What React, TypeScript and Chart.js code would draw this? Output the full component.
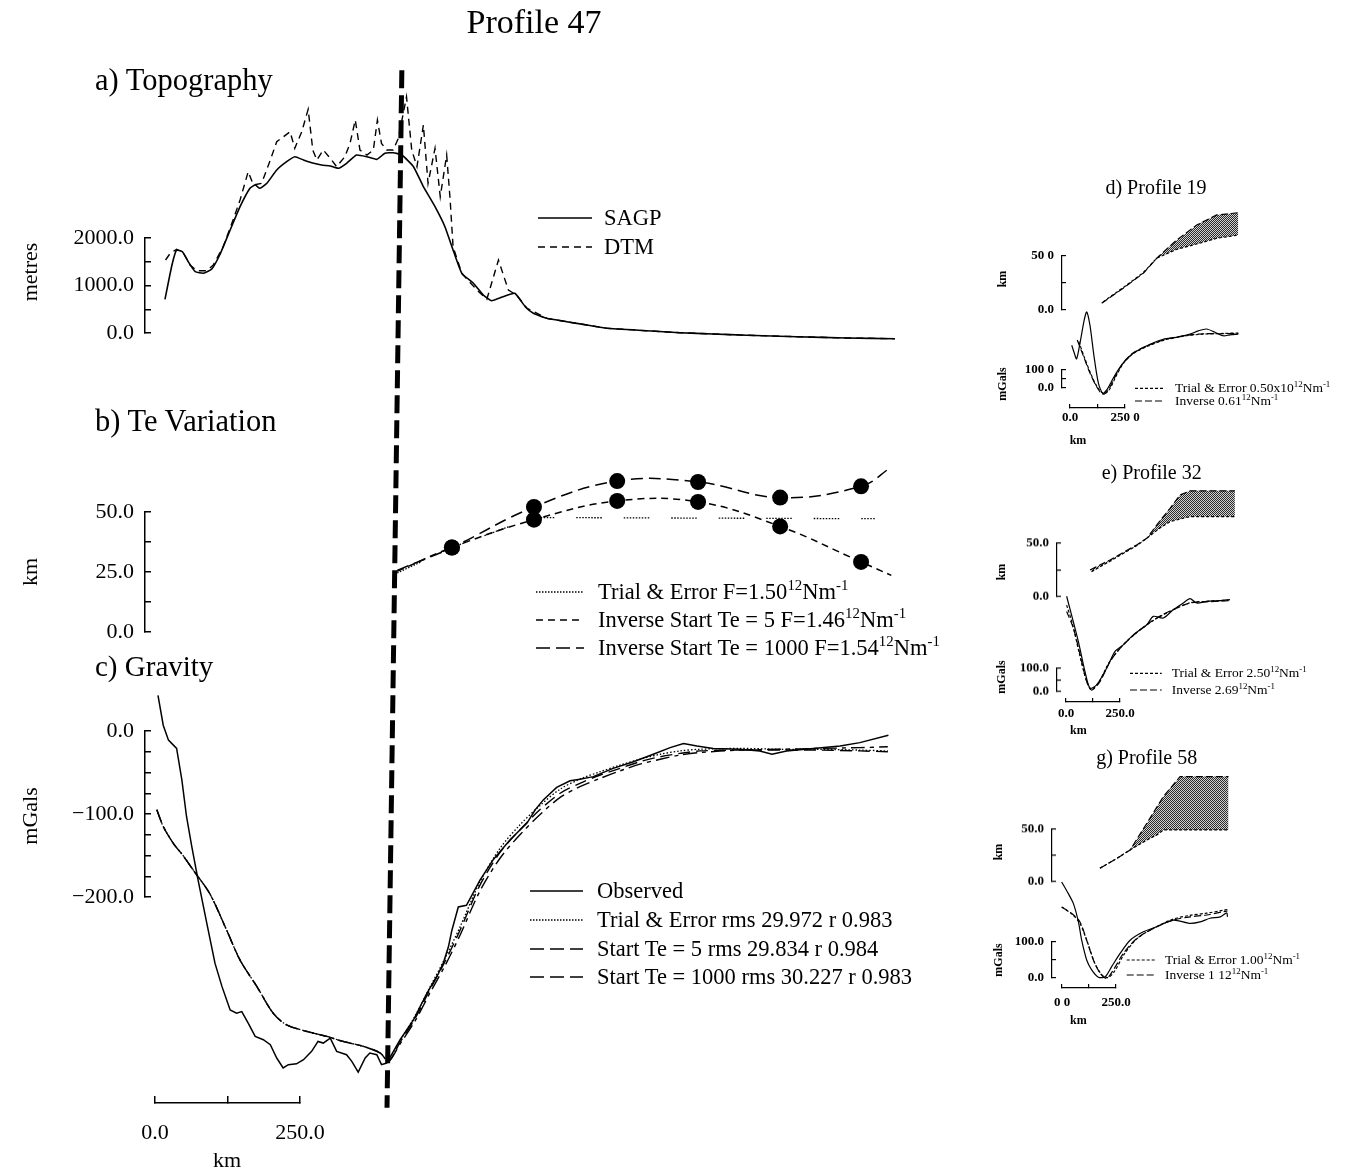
import React, { useEffect, useRef } from 'react';
import { Chart, registerables } from 'chart.js';

Chart.register(...registerables);

// ======================= DATA : Profile 47 =======================
// a) Topography — distance along profile (km) / elevation (metres)
const topoSagpKm = [18, 30, 38, 48, 58, 70, 84, 98, 112, 130, 147, 164, 173, 181, 193, 210, 227, 241, 256, 270, 287, 302, 316, 330, 347, 365, 382, 396, 410, 425, 445, 462, 482, 499, 513, 528, 548, 565, 579, 599, 619, 637, 651, 674, 708, 743, 777, 846, 903, 960, 1018, 1103, 1189, 1272];
const topoSagpM = [709, 1431, 1747, 1711, 1501, 1290, 1257, 1341, 1642, 2168, 2659, 3046, 3115, 3046, 3151, 3431, 3606, 3711, 3642, 3585, 3536, 3515, 3467, 3572, 3747, 3711, 3656, 3783, 3795, 3747, 3501, 3080, 2659, 2238, 1747, 1257, 1046, 800, 680, 764, 836, 554, 415, 309, 238, 168, 99, 48, 6, -21, -48, -78, -105, -120];
const topoDtmKm = [19, 27, 38, 50, 61, 73, 90, 101, 118, 135, 147, 161, 170, 184, 199, 210, 233, 241, 253, 264, 272, 279, 290, 302, 313, 327, 336, 345, 353, 365, 376, 383, 390, 399, 410, 419, 433, 442, 451, 462, 470, 482, 491, 502, 508, 513, 528, 554, 571, 591, 608, 622, 640, 674, 708, 743, 777, 846, 903, 960, 1018, 1103, 1189, 1272];
const topoDtmM = [1537, 1678, 1762, 1678, 1431, 1311, 1311, 1431, 1817, 2379, 2800, 3395, 3115, 3151, 3642, 4027, 4237, 3888, 4237, 4709, 3852, 3642, 3852, 3677, 3501, 3711, 3993, 4484, 3852, 3747, 3852, 4484, 3993, 3852, 3852, 4098, 4974, 3852, 3501, 4378, 3151, 3888, 2869, 3747, 2800, 1817, 1257, 905, 709, 1537, 905, 800, 520, 309, 238, 168, 99, 48, 6, -21, -48, -78, -105, -120];

// b) Te variation — km along profile / Te (km)
const teNodesKm = [417, 511, 652, 795, 934, 1075, 1214, 1266];
const teStart1000 = [25.7, 35.2, 52.1, 62.9, 62.5, 56.0, 60.7, 68.7];
const teStart5 = [25.3, 35.2, 46.8, 54.6, 54.2, 44.0, 29.2, 23.6];
const teTrialKm = [417, 511, 652, 1238];
const teTrialVal = [24.6, 35.2, 47.7, 47.2];

// c) Gravity — km along profile / mGal
const gravObsKm = [6, 15, 24, 38, 47, 55, 64, 75, 90, 104, 116, 130, 141, 150, 161, 173, 187, 199, 210, 221, 230, 244, 256, 270, 281, 290, 302, 313, 330, 339, 350, 362, 370, 382, 390, 399, 422, 445, 468, 488, 496, 505, 511, 522, 536, 559, 582, 611, 640, 654, 668, 691, 714, 731, 754, 788, 823, 857, 886, 909, 932, 960, 1006, 1040, 1061, 1086, 1132, 1178, 1212, 1261];
const gravObs = [43, 7, -11, -21, -59, -103, -139, -180, -232, -280, -308, -336, -340, -338, -352, -368, -372, -378, -394, -406, -402, -401, -396, -386, -374, -376, -370, -386, -390, -398, -411, -394, -388, -390, -402, -400, -372, -348, -316, -292, -280, -260, -240, -212, -210, -180, -155, -131, -111, -95, -83, -68, -60, -58, -55, -45, -37, -28, -20, -15, -18, -21, -22, -24, -28, -24, -21, -18, -14, -5];
const gravModelKm = [4, 15, 32, 50, 67, 95, 124, 147, 176, 204, 227, 262, 296, 324, 359, 388, 402, 422, 448, 473, 499, 525, 559, 594, 628, 662, 697, 731, 766, 800, 834, 869, 903, 937, 1006, 1075, 1144, 1212, 1260];
const gravTrial = [-95, -115, -135, -151, -168, -196, -240, -276, -308, -340, -354, -362, -368, -374, -380, -388, -398, -373, -343, -309, -274, -236, -182, -141, -113, -90, -70, -58, -49, -41, -34, -28, -24, -22, -21, -22, -22, -23, -24];
const gravStart5 = [-95, -115, -135, -151, -168, -196, -240, -276, -308, -340, -354, -362, -368, -374, -380, -388, -398, -375, -346, -312, -278, -240, -186, -146, -119, -95, -75, -63, -53, -45, -37, -31, -27, -24, -23, -23, -23, -24, -25];
const gravStart1000 = [-95, -115, -135, -151, -168, -196, -240, -276, -308, -340, -354, -362, -368, -374, -380, -388, -398, -377, -349, -316, -283, -246, -193, -153, -125, -101, -80, -67, -57, -48, -40, -34, -29, -26, -23, -22, -21, -20, -19];

// thick dashed boundary line (km, on the mGal scale)
const boundaryKm = [425, 399.5];
const boundaryMGal = [796, -454];

// tick values / labels
const topoTicks = [0, 500, 1000, 1500, 2000];
const topoTickLabels = ['0.0', '', '1000.0', '', '2000.0'];
const teTicks = [0, 12.5, 25, 37.5, 50];
const teTickLabels = ['0.0', '', '25.0', '', '50.0'];
const gravTicks = [-200, -175, -150, -125, -100, -75, -50, -25, 0];
const gravTickLabels = ['\u2212200.0', '', '', '', '\u2212100.0', '', '', '', '0.0'];
const barTicks = [0, 125, 250];
const barTickLabels = ['0.0', '', '250.0'];

// ======================= DATA : insets =======================
// d) Profile 19
const dTeInvKm = [144, 242, 333, 394, 485, 576, 667, 765];
const dTeInv = [6.2, 20.1, 34.0, 47.9, 64.8, 78.7, 88.0, 90.1];
const dTeTrialKm = [150, 242, 333, 394, 485, 576, 667, 765];
const dTeTrial = [7.5, 20.8, 34.6, 47.9, 56.2, 61.1, 66.4, 69.4];
const dGObsKm = [8, 18, 30, 46, 64, 76, 91, 109, 129, 149, 167, 197, 220, 242, 280, 318, 364, 424, 485, 546, 583, 621, 659, 697, 727, 765];
const dGObs = [235, 198, 161, 250, 370, 417, 342, 176, 28, -28, -9, 56, 102, 139, 185, 213, 241, 268, 278, 296, 314, 324, 306, 287, 292, 296];
const dGInvKm = [33, 61, 91, 121, 149, 174, 205, 242, 288, 349, 424, 515, 606, 697, 765];
const dGInv = [264, 176, 83, 9, -32, -9, 64, 139, 194, 231, 264, 287, 298, 298, 300];
const dGTrialKm = [40, 65, 95, 125, 155, 180, 210, 245, 290, 350, 425, 515, 606, 697, 765];
const dGTrial = [255, 170, 78, 5, -30, -5, 68, 140, 192, 228, 262, 285, 296, 300, 302];
const dTeTickLabels = ['0.0', '', '50 0'];
const dGTickLabels = ['0.0', '', '100 0'];
const dBarTickLabels = ['0.0', '', '250 0'];

// e) Profile 32
const eTeInvKm = [111, 204, 327, 374, 435, 482, 528, 574, 782];
const eTeInv = [25.0, 34.4, 48.5, 54.7, 71.0, 82.8, 95.3, 99.1, 99.1];
const eTeTrialKm = [118, 204, 327, 374, 435, 482, 574, 782];
const eTeTrial = [23.5, 33.2, 47.8, 54.7, 64.4, 70.3, 75.0, 75.0];
const eGObsKm = [3, 57, 88, 111, 142, 188, 227, 265, 312, 374, 404, 451, 497, 543, 574, 605, 651, 713, 759];
const eGObs = [408, 215, 86, 15, 29, 100, 172, 200, 243, 286, 322, 315, 351, 379, 398, 379, 386, 389, 394];
const eGInvKm = [3, 34, 65, 96, 119, 157, 204, 265, 343, 420, 497, 574, 651, 759];
const eGInv = [343, 272, 158, 43, 7, 43, 129, 200, 265, 315, 351, 379, 384, 389];
const eGTrialKm = [3, 30, 60, 92, 116, 150, 200, 262, 340, 418, 497, 574, 651, 759];
const eGTrial = [370, 290, 170, 55, 10, 38, 125, 198, 262, 312, 350, 380, 386, 392];
const eTeTickLabels = ['0.0', '', '50.0'];
const eGTickLabels = ['0.0', '', '100.0'];
const eBarTickLabels = ['0.0', '', '250.0'];

// g) Profile 58
const gTeInvKm = [176, 254, 315, 392, 468, 545, 768];
const gTeInv = [12.8, 22.3, 30.3, 55.8, 81.2, 100.3, 100.3];
const gTeTrialKm = [176, 254, 315, 392, 438, 468, 768];
const gTeTrial = [12.8, 22.3, 30.3, 39.8, 44.6, 49.4, 49.4];
const gGObsKm = [0, 30, 54, 77, 92, 115, 138, 169, 200, 230, 269, 315, 376, 438, 514, 591, 637, 683, 730, 760, 763];
const gGObs = [263, 232, 204, 154, 104, 50, 23, 3, 4, 32, 68, 104, 127, 141, 159, 150, 154, 164, 168, 179, 168];
const gGInvKm = [0, 46, 84, 115, 146, 177, 207, 238, 284, 346, 438, 514, 591, 668, 745, 763];
const gGInv = [195, 177, 154, 104, 50, 14, 0, 23, 68, 109, 141, 159, 168, 173, 182, 184];
const gGTrialKm = [0, 46, 84, 120, 152, 184, 212, 242, 288, 350, 440, 514, 591, 668, 745, 763];
const gGTrial = [195, 176, 150, 96, 42, 10, 2, 18, 66, 110, 142, 162, 172, 178, 186, 188];
const gTeTickLabels = ['0.0', '', '50.0'];
const gGTickLabels = ['0.0', '', '100.0'];
const gBarTickLabels = ['0 0', '', '250.0'];

const insetTeTicks = [0, 25, 50];
const insetGTicks = [0, 50, 100];

// ======================= STYLE / LAYOUT =======================
const INK = '#000';
const SERIF = '"Liberation Serif", "Times New Roman", Times, serif';

type Rect = { left: number; top: number; right: number; bottom: number };
// linear map: value v1 sits at pixel p1, value v2 at pixel p2 (page coordinates)
type Map1 = { v1: number; p1: number; v2: number; p2: number };

const px = (m: Map1, v: number) => m.p1 + ((v - m.v1) * (m.p2 - m.p1)) / (m.v2 - m.v1);
const val = (m: Map1, p: number) => m.v1 + ((p - m.p1) * (m.v2 - m.v1)) / (m.p2 - m.p1);
const rangeFor = (m: Map1, a: number, b: number) => {
  const u = val(m, a);
  const w = val(m, b);
  return { min: Math.min(u, w), max: Math.max(u, w) };
};

const zip = (xs: number[], ys: number[]) => xs.map((x, i) => ({ x, y: ys[i] }));

function line(xs: number[], ys: number[], extra: any = {}) {
  return {
    data: zip(xs, ys),
    borderColor: INK,
    backgroundColor: INK,
    borderWidth: 1.5,
    pointRadius: 0,
    fill: false,
    tension: 0,
    clip: false,
    ...extra,
  };
}

function stipple() {
  const c = document.createElement('canvas');
  c.width = 2;
  c.height = 2;
  const g = c.getContext('2d')!;
  g.fillStyle = '#d0d0d0';
  g.fillRect(0, 0, 2, 2);
  g.fillStyle = '#2a2a2a';
  g.fillRect(0, 0, 1, 1);
  g.fillRect(1, 1, 1, 1);
  return g.createPattern(c, 'repeat') || '#777';
}

function useChart(ref: any, build: () => any) {
  useEffect(() => {
    const chart = new Chart(ref.current as HTMLCanvasElement, build());
    return () => chart.destroy();
  }, []);
}

const baseOptions = (padding: any, scales: any) => ({
  responsive: false,
  animation: false,
  events: [],
  layout: { autoPadding: false, padding },
  plugins: { legend: { display: false }, tooltip: { enabled: false } },
  scales,
});

function Canvas({ box, cref }: { box: Rect; cref: any }) {
  const w = box.right - box.left;
  const h = box.bottom - box.top;
  return (
    <canvas ref={cref} width={w} height={h}
      style={{ position: 'absolute', left: box.left, top: box.top, width: w, height: h }} />
  );
}

// data layer: whole canvas is the chart area, scales hidden but mapped to page pixels
function DataChart({ box, xm, ym, make }: { box: Rect; xm: Map1; ym: Map1; make: () => any[] }) {
  const ref = useRef<HTMLCanvasElement>(null);
  useChart(ref, () => ({
    type: 'line',
    data: { datasets: make() },
    options: baseOptions(0, {
      x: { type: 'linear', display: false, ...rangeFor(xm, box.left, box.right) },
      y: { type: 'linear', display: false, ...rangeFor(ym, box.bottom, box.top) },
    }),
  }));
  return <Canvas box={box} cref={ref} />;
}

const AXIS_MARGIN = 44;

// bracket-style vertical axis "[" with inward ticks
function AxisY({ x, ym, ticks, labels, size, bold, pad, tick, lw, room }: any) {
  const ref = useRef<HTMLCanvasElement>(null);
  const top = px(ym, ticks[ticks.length - 1]);
  const bottom = px(ym, ticks[0]);
  const box: Rect = { left: x - room, top: top - AXIS_MARGIN, right: x + 20, bottom: bottom + AXIS_MARGIN };
  useChart(ref, () => ({
    type: 'line',
    data: { datasets: [] },
    options: baseOptions({ left: 0, right: 0, top: AXIS_MARGIN, bottom: AXIS_MARGIN }, {
      x: { type: 'linear', display: false, min: 0, max: 1 },
      y: {
        type: 'linear',
        position: 'left',
        min: ticks[0],
        max: ticks[ticks.length - 1],
        afterFit: (s: any) => { s.width = room; },
        border: { display: true, color: INK, width: lw },
        grid: { display: true, drawOnChartArea: false, drawTicks: true, tickLength: -tick, color: INK, lineWidth: lw },
        ticks: {
          stepSize: ticks[1] - ticks[0],
          autoSkip: false,
          padding: pad,
          color: INK,
          font: { family: SERIF, size, weight: bold ? 'bold' : 'normal' },
          callback: (_v: any, i: number) => labels[i] ?? '',
        },
      },
    }),
  }));
  return <Canvas box={box} cref={ref} />;
}

const BAR_MARGIN = 80;

// horizontal distance scale bar with upward ticks
function AxisBar({ xm, y, ticks, labels, size, bold, pad, tick, lw, room }: any) {
  const ref = useRef<HTMLCanvasElement>(null);
  const left = px(xm, ticks[0]);
  const right = px(xm, ticks[ticks.length - 1]);
  const box: Rect = { left: left - BAR_MARGIN, top: y - 14, right: right + BAR_MARGIN, bottom: y + room };
  useChart(ref, () => ({
    type: 'line',
    data: { datasets: [] },
    options: baseOptions({ left: BAR_MARGIN, right: BAR_MARGIN, top: 4, bottom: 0 }, {
      y: { type: 'linear', display: false, min: 0, max: 1 },
      x: {
        type: 'linear',
        position: 'bottom',
        min: ticks[0],
        max: ticks[ticks.length - 1],
        afterFit: (s: any) => { s.height = room; },
        border: { display: true, color: INK, width: lw },
        grid: { display: true, drawOnChartArea: false, drawTicks: true, tickLength: -tick, color: INK, lineWidth: lw },
        ticks: {
          stepSize: ticks[1] - ticks[0],
          autoSkip: false,
          maxRotation: 0,
          minRotation: 0,
          padding: pad,
          color: INK,
          font: { family: SERIF, size, weight: bold ? 'bold' : 'normal' },
          callback: (_v: any, i: number) => labels[i] ?? '',
        },
      },
    }),
  }));
  return <Canvas box={box} cref={ref} />;
}

function Txt({ x, y, size, children, align = 'left', rotate = false, bold = false }: any) {
  const tx = align === 'left' ? '0' : align === 'center' ? '-50%' : '-100%';
  return (
    <div
      style={{
        position: 'absolute',
        left: x,
        top: y,
        transform: rotate ? 'translate(-50%,-50%) rotate(-90deg)' : `translate(${tx},-50%)`,
        fontFamily: SERIF,
        fontSize: size,
        fontWeight: bold ? 'bold' : 'normal',
        lineHeight: 1,
        whiteSpace: 'nowrap',
        color: INK,
      }}
    >
      {children}
    </div>
  );
}

const Sup = ({ children }: any) => (
  <span style={{ fontSize: '0.66em', position: 'relative', top: '-0.6em', lineHeight: 0 }}>{children}</span>
);

const DOTS_GAPPED = [1.5, 1.5, 1.5, 1.5, 1.5, 1.5, 1.5, 1.5, 1.5, 1.5, 1.5, 1.5, 1.5, 1.5, 1.5, 1.5, 1.5, 22];

// ---------------- main panels (page-pixel maps) ----------------
const MAIN_X: Map1 = { v1: 0, p1: 154.5, v2: 250, p2: 300 };
const TOPO_Y: Map1 = { v1: 0, p1: 333, v2: 2000, p2: 238 };
const TE_Y: Map1 = { v1: 0, p1: 632, v2: 50, p2: 512 };
const GRAV_Y: Map1 = { v1: 0, p1: 731, v2: -200, p2: 897 };
const MAIN_AXIS_X = 145;

const markerRadius = (ctx: any) => {
  const n = ctx.dataset.data.length;
  return ctx.dataIndex === 0 || ctx.dataIndex === n - 1 ? 0 : 8;
};

const makeTopo = () => [
  line(topoSagpKm, topoSagpM, { borderWidth: 1.6, tension: 0.15 }),
  line(topoDtmKm, topoDtmM, { borderWidth: 1.4, borderDash: [7, 5] }),
];

const makeTe = () => [
  line(teTrialKm, teTrialVal, { borderWidth: 1.3, borderDash: DOTS_GAPPED }),
  line(teNodesKm, teStart5, {
    borderWidth: 1.5, borderDash: [7, 5], tension: 0.4,
    pointRadius: markerRadius, pointBackgroundColor: INK, pointBorderWidth: 0,
  }),
  line(teNodesKm, teStart1000, {
    borderWidth: 1.5, borderDash: [12, 6], tension: 0.4,
    pointRadius: markerRadius, pointBackgroundColor: INK, pointBorderWidth: 0,
  }),
];

const makeGrav = () => [
  line(gravObsKm, gravObs, { borderWidth: 1.5 }),
  line(gravModelKm, gravTrial, { borderWidth: 1.3, borderDash: [1.5, 2], tension: 0.3 }),
  line(gravModelKm, gravStart5, { borderWidth: 1.4, borderDash: [12, 6], tension: 0.3 }),
  line(gravModelKm, gravStart1000, { borderWidth: 1.4, borderDash: [14, 5, 4, 5], tension: 0.3 }),
  line(boundaryKm, boundaryMGal, { borderWidth: 5, borderDash: [18, 7] }),
];

// ---------------- insets ----------------
const insetD: any = {
  title: 'd) Profile 19', titleXY: [1156, 186.7],
  xm: { v1: 0, p1: 1070, v2: 250, p2: 1125 },
  teY: { v1: 0, p1: 310, v2: 50, p2: 256 },
  gY: { v1: 0, p1: 388.3, v2: 100, p2: 370 },
  axisX: 1061.7, barY: 408.3, barPad: 6.2,
  teBox: { left: 1050, top: 195, right: 1300, bottom: 330 },
  gBox: { left: 1050, top: 300, right: 1300, bottom: 405 },
  teLabels: dTeTickLabels, gLabels: dGTickLabels, barLabels: dBarTickLabels,
  teInv: [dTeInvKm, dTeInv], teTrial: [dTeTrialKm, dTeTrial],
  gObs: [dGObsKm, dGObs], gInv: [dGInvKm, dGInv], gTrial: [dGTrialKm, dGTrial],
  kmXY: [1002, 279], mGalXY: [1002, 384], barKmXY: [1078, 440],
  leg: { x1: 1135, x2: 1165, tx: 1175, y1: 388.3, y2: 401 },
  trialText: <>{'Trial & Error 0.50x10'}<Sup>12</Sup>{'Nm'}<Sup>-1</Sup></>,
  invText: <>{'Inverse 0.61'}<Sup>12</Sup>{'Nm'}<Sup>-1</Sup></>,
};

const insetE: any = {
  title: 'e) Profile 32', titleXY: [1151.7, 471.7],
  xm: { v1: 0, p1: 1066, v2: 250, p2: 1120 },
  teY: { v1: 0, p1: 596.7, v2: 50, p2: 543.3 },
  gY: { v1: 0, p1: 691.7, v2: 100, p2: 668.3 },
  axisX: 1056.5, barY: 701.7, barPad: 7.8,
  teBox: { left: 1050, top: 480, right: 1300, bottom: 610 },
  gBox: { left: 1050, top: 585, right: 1300, bottom: 700 },
  teLabels: eTeTickLabels, gLabels: eGTickLabels, barLabels: eBarTickLabels,
  teInv: [eTeInvKm, eTeInv], teTrial: [eTeTrialKm, eTeTrial],
  gObs: [eGObsKm, eGObs], gInv: [eGInvKm, eGInv], gTrial: [eGTrialKm, eGTrial],
  kmXY: [1001, 571.7], mGalXY: [1001, 676.7], barKmXY: [1078.3, 730],
  leg: { x1: 1130, x2: 1161.7, tx: 1171.7, y1: 673.3, y2: 690 },
  trialText: <>{'Trial & Error 2.50'}<Sup>12</Sup>{'Nm'}<Sup>-1</Sup></>,
  invText: <>{'Inverse 2.69'}<Sup>12</Sup>{'Nm'}<Sup>-1</Sup></>,
};

const insetG: any = {
  title: 'g) Profile 58', titleXY: [1146.7, 756.7],
  xm: { v1: 0, p1: 1061.7, v2: 250, p2: 1116 },
  teY: { v1: 0, p1: 881.7, v2: 50, p2: 829.3 },
  gY: { v1: 0, p1: 978.3, v2: 100, p2: 941.7 },
  axisX: 1051.7, barY: 988.3, barPad: 11.2,
  teBox: { left: 1045, top: 765, right: 1300, bottom: 890 },
  gBox: { left: 1045, top: 870, right: 1300, bottom: 985 },
  teLabels: gTeTickLabels, gLabels: gGTickLabels, barLabels: gBarTickLabels,
  teInv: [gTeInvKm, gTeInv], teTrial: [gTeTrialKm, gTeTrial],
  gObs: [gGObsKm, gGObs], gInv: [gGInvKm, gGInv], gTrial: [gGTrialKm, gGTrial],
  kmXY: [998, 851.7], mGalXY: [998, 960], barKmXY: [1078.3, 1020],
  leg: { x1: 1126.7, x2: 1156.7, tx: 1165, y1: 960, y2: 975 },
  trialText: <>{'Trial & Error 1.00'}<Sup>12</Sup>{'Nm'}<Sup>-1</Sup></>,
  invText: <>{'Inverse 1 12'}<Sup>12</Sup>{'Nm'}<Sup>-1</Sup></>,
};

function Inset({ s }: { s: any }) {
  const makeTeInset = () => [
    line(s.teInv[0], s.teInv[1], { borderWidth: 1.2, borderDash: [7, 3] }),
    line(s.teTrial[0], s.teTrial[1], { borderWidth: 1.2, borderDash: [3, 2], fill: '-1', backgroundColor: stipple() }),
  ];
  const makeGInset = () => [
    line(s.gObs[0], s.gObs[1], { borderWidth: 1.2, tension: 0.25 }),
    line(s.gTrial[0], s.gTrial[1], { borderWidth: 1.2, borderDash: [3, 2], tension: 0.3 }),
    line(s.gInv[0], s.gInv[1], { borderWidth: 1.2, borderDash: [7, 3], tension: 0.3 }),
  ];
  const axisFont = { size: 13, bold: true, pad: 12, tick: 4, lw: 1.2, room: 60 };
  return (
    <>
      <DataChart box={s.teBox} xm={s.xm} ym={s.teY} make={makeTeInset} />
      <DataChart box={s.gBox} xm={s.xm} ym={s.gY} make={makeGInset} />
      <AxisY x={s.axisX} ym={s.teY} ticks={insetTeTicks} labels={s.teLabels} {...axisFont} />
      <AxisY x={s.axisX} ym={s.gY} ticks={insetGTicks} labels={s.gLabels} {...axisFont} />
      <AxisBar xm={s.xm} y={s.barY} ticks={barTicks} labels={s.barLabels} size={13} bold pad={s.barPad} tick={4} lw={1.2} room={26} />
      <Txt x={s.titleXY[0]} y={s.titleXY[1]} size={20} align="center">{s.title}</Txt>
      <Txt x={s.kmXY[0]} y={s.kmXY[1]} size={12} rotate bold>km</Txt>
      <Txt x={s.mGalXY[0]} y={s.mGalXY[1]} size={12} rotate bold>mGals</Txt>
      <Txt x={s.barKmXY[0]} y={s.barKmXY[1]} size={12} align="center" bold>km</Txt>
      <Txt x={s.leg.tx} y={s.leg.y1} size={13.5}>{s.trialText}</Txt>
      <Txt x={s.leg.tx} y={s.leg.y2} size={13.5}>{s.invText}</Txt>
    </>
  );
}

// legend sample strokes
const legendLines = [
  { x1: 538, x2: 592, y: 218, dash: '', w: 1.5 },
  { x1: 538, x2: 592, y: 247, dash: '7 5', w: 1.5 },
  { x1: 536, x2: 584, y: 592, dash: '1.5 1.5', w: 1.3 },
  { x1: 536, x2: 584, y: 620, dash: '7 5', w: 1.5 },
  { x1: 536, x2: 584, y: 648, dash: '14 6', w: 1.5 },
  { x1: 530, x2: 583, y: 891, dash: '', w: 1.5 },
  { x1: 530, x2: 583, y: 920, dash: '1.5 1.5', w: 1.3 },
  { x1: 530, x2: 583, y: 949, dash: '14 6', w: 1.5 },
  { x1: 530, x2: 583, y: 977, dash: '14 6', w: 1.5 },
  { x1: insetD.leg.x1, x2: insetD.leg.x2, y: insetD.leg.y1, dash: '3 2', w: 1.2 },
  { x1: insetD.leg.x1, x2: insetD.leg.x2, y: insetD.leg.y2, dash: '7 3', w: 1.2 },
  { x1: insetE.leg.x1, x2: insetE.leg.x2, y: insetE.leg.y1, dash: '3 2', w: 1.2 },
  { x1: insetE.leg.x1, x2: insetE.leg.x2, y: insetE.leg.y2, dash: '7 3', w: 1.2 },
  { x1: insetG.leg.x1, x2: insetG.leg.x2, y: insetG.leg.y1, dash: '3 2', w: 1.2 },
  { x1: insetG.leg.x1, x2: insetG.leg.x2, y: insetG.leg.y2, dash: '7 3', w: 1.2 },
];

export default function App() {
  const mainAxis = { size: 22, bold: false, pad: 17, tick: 6, lw: 1.5, room: 110 };
  return (
    <div style={{ position: 'absolute', left: 0, top: 0, width: 1345, height: 1169, background: '#fff', overflow: 'hidden' }}>
      <DataChart box={{ left: 130, top: 60, right: 960, bottom: 360 }} xm={MAIN_X} ym={TOPO_Y} make={makeTopo} />
      <DataChart box={{ left: 130, top: 440, right: 960, bottom: 690 }} xm={MAIN_X} ym={TE_Y} make={makeTe} />
      <DataChart box={{ left: 130, top: 60, right: 960, bottom: 1115 }} xm={MAIN_X} ym={GRAV_Y} make={makeGrav} />

      <AxisY x={MAIN_AXIS_X} ym={TOPO_Y} ticks={topoTicks} labels={topoTickLabels} {...mainAxis} />
      <AxisY x={MAIN_AXIS_X} ym={TE_Y} ticks={teTicks} labels={teTickLabels} {...mainAxis} />
      <AxisY x={MAIN_AXIS_X} ym={GRAV_Y} ticks={gravTicks} labels={gravTickLabels} {...mainAxis} />
      <AxisBar xm={MAIN_X} y={1103} ticks={barTicks} labels={barTickLabels} size={22} bold={false} pad={24} tick={7} lw={1.5} room={46} />

      <svg width={1345} height={1169} style={{ position: 'absolute', left: 0, top: 0 }}>
        {legendLines.map((l, i) => (
          <line key={i} x1={l.x1} x2={l.x2} y1={l.y} y2={l.y} stroke={INK} strokeWidth={l.w} strokeDasharray={l.dash || undefined} />
        ))}
      </svg>

      <Txt x={534} y={22} size={34} align="center">Profile 47</Txt>
      <Txt x={95} y={80} size={30.5}>a) Topography</Txt>
      <Txt x={95} y={421} size={30.5}>b) Te Variation</Txt>
      <Txt x={95} y={666} size={29}>c) Gravity</Txt>
      <Txt x={30} y={272} size={22} rotate>metres</Txt>
      <Txt x={30} y={572} size={22} rotate>km</Txt>
      <Txt x={30} y={816} size={22} rotate>mGals</Txt>
      <Txt x={227} y={1160} size={22} align="center">km</Txt>

      <Txt x={604} y={218} size={22.5}>SAGP</Txt>
      <Txt x={604} y={247} size={22.5}>DTM</Txt>

      <Txt x={598} y={592} size={22.5}>{'Trial & Error F=1.50'}<Sup>12</Sup>{'Nm'}<Sup>-1</Sup></Txt>
      <Txt x={598} y={620} size={22.5}>{'Inverse Start Te = 5 F=1.46'}<Sup>12</Sup>{'Nm'}<Sup>-1</Sup></Txt>
      <Txt x={598} y={648} size={22.5}>{'Inverse Start Te = 1000 F=1.54'}<Sup>12</Sup>{'Nm'}<Sup>-1</Sup></Txt>

      <Txt x={597} y={891} size={22.5}>Observed</Txt>
      <Txt x={597} y={920} size={22.5}>{'Trial & Error rms 29.972 r 0.983'}</Txt>
      <Txt x={597} y={949} size={22.5}>{'Start Te = 5 rms 29.834 r 0.984'}</Txt>
      <Txt x={597} y={977} size={22.5}>{'Start Te = 1000 rms 30.227 r 0.983'}</Txt>

      <Inset s={insetD} />
      <Inset s={insetE} />
      <Inset s={insetG} />
    </div>
  );
}
